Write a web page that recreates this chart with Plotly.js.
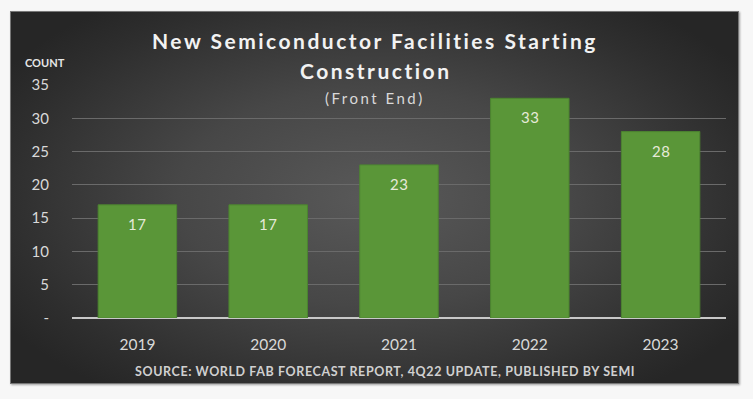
<!DOCTYPE html>
<html>
<head>
<meta charset="utf-8">
<script src="https://cdn.plot.ly/plotly-3.0.1.min.js"></script>
<style>
  html, body { margin:0; padding:0; background:#f7f7f7; }
  #panel { position:absolute; left:10px; top:11px; width:729px; height:373px;
    background: radial-gradient(ellipse 60% 65% at 50% 50%, #595959 0%, #474747 45%, #2e2e2e 85%, #262626 100%);
    box-shadow: 1px 1px 2px rgba(0,0,0,0.35); border:1px solid #777; box-sizing:border-box; }
  #chart { position:absolute; left:0; top:0; width:753px; height:399px; }
</style>
</head>
<body>
<div id="panel"></div>
<div id="chart"></div>
<script>
const years = ['2019', '2020', '2021', '2022', '2023'];
const counts = [17, 17, 23, 33, 28];
const yTickVals = [0, 5, 10, 15, 20, 25, 30, 35];
const yTickText = ['-', '5', '10', '15', '20', '25', '30', '35'];
const titleLine1 = 'New Semiconductor Facilities Starting';
const titleLine2 = 'Construction';
const subtitle = '(Front End)';
const yLabel = 'COUNT';
const sourceText = 'SOURCE: WORLD FAB FORECAST REPORT, 4Q22 UPDATE, PUBLISHED BY SEMI';

const FONT = 'Lato, "Open Sans", sans-serif';
function sp(t, px) { return '<span style="letter-spacing:' + px + 'px">' + t + '</span>'; }
const trace = {
  type: 'bar', x: years, y: counts,
  marker: { color: '#5a9638', line: { color: '#4c8430', width: 1 } },
  hoverinfo: 'none'
};
const H = 233;
function py(p) { return (318 - p) / H; }
const CX = (375 - 72) / 654;
const valueLabels = years.map((yr, i) => ({
  text: sp(String(counts[i]), 0.5), x: i, y: counts[i], xref: 'x', yref: 'y',
  yshift: -19, showarrow: false, xanchor: 'center', yanchor: 'middle',
  font: { family: FONT, size: 15, color: '#e6ead8' }
}));
const layout = {
  width: 753, height: 399,
  margin: { l: 72, r: 27, t: 85, b: 81 },
  paper_bgcolor: 'rgba(0,0,0,0)', plot_bgcolor: 'rgba(0,0,0,0)',
  bargap: 0.4, showlegend: false,
  xaxis: {
    type: 'category', range: [-0.5, years.length - 0.5], autorange: false,
    showgrid: false, zeroline: false, showline: false,
    ticks: '', ticklabelstandoff: 15,
    tickfont: { family: FONT, size: 15.5, color: '#d9d9d9' }
  },
  yaxis: {
    range: [0, 35], autorange: false, tickvals: yTickVals, ticktext: yTickText,
    showgrid: true, gridcolor: '#6a6a6a', gridwidth: 1,
    zeroline: true, zerolinecolor: '#c8c8c8', zerolinewidth: 2,
    ticks: '', ticklabelstandoff: 22,
    tickfont: { family: FONT, size: 15, color: '#d9d9d9' }
  },
  font: { family: FONT },
  annotations: [
    { text: '<b>' + sp(titleLine1, 2.5) + '</b>', xref: 'paper', yref: 'paper', x: CX, y: py(40), showarrow: false, xanchor: 'center', yanchor: 'middle', font: { family: FONT, size: 21, color: '#f2f2f2' } },
    { text: '<b>' + sp(titleLine2, 2.5) + '</b>', xref: 'paper', yref: 'paper', x: CX, y: py(71), showarrow: false, xanchor: 'center', yanchor: 'middle', font: { family: FONT, size: 21, color: '#f2f2f2' } },
    { text: sp(subtitle, 2.5), xref: 'paper', yref: 'paper', x: CX, y: py(98), showarrow: false, xanchor: 'center', yanchor: 'middle', font: { family: FONT, size: 15, color: '#d9d9d9' } },
    { text: '<b>' + yLabel + '</b>', xref: 'paper', yref: 'paper', x: (45 - 72) / 654, y: py(62), showarrow: false, xanchor: 'center', yanchor: 'middle', font: { family: FONT, size: 11, color: '#e6e6e6' } },
    { text: '<b>' + sp(sourceText, 0.6) + '</b>', xref: 'paper', yref: 'paper', x: (385 - 72) / 654, y: py(371), showarrow: false, xanchor: 'center', yanchor: 'middle', font: { family: FONT, size: 12.5, color: '#d0d0d0' } }
  ].concat(valueLabels)
};
Plotly.newPlot('chart', [trace], layout, { displayModeBar: false, staticPlot: true });
</script>
</body>
</html>
